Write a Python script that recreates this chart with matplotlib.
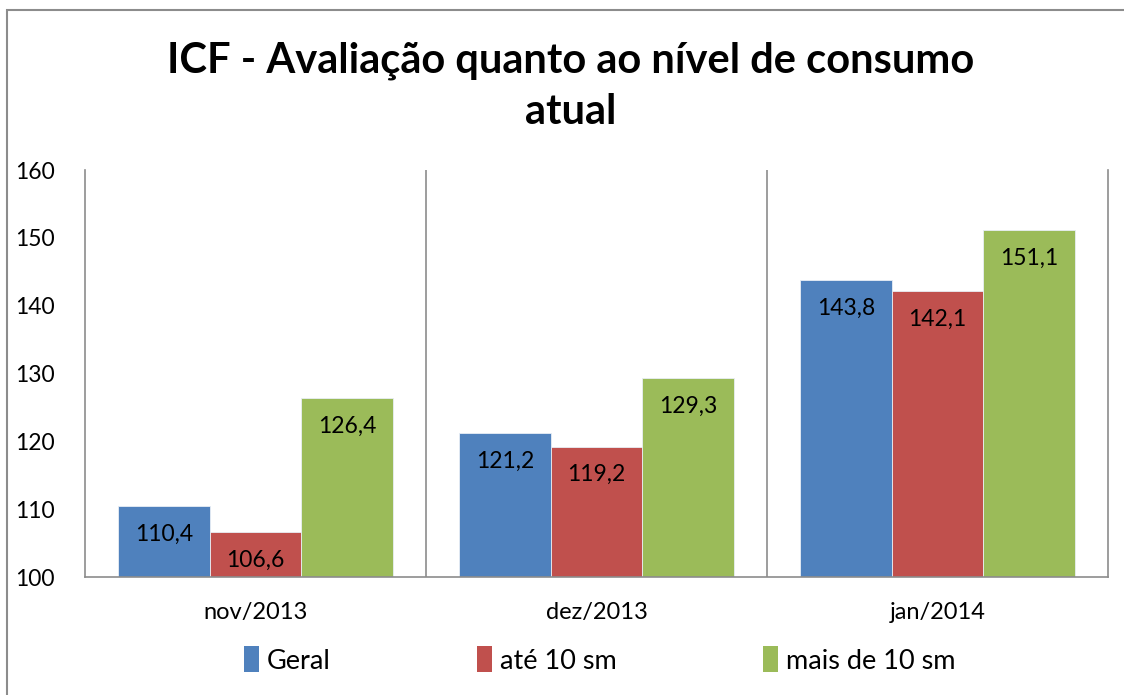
import matplotlib
matplotlib.use("Agg")
import matplotlib.pyplot as plt
from matplotlib.patches import Patch, Rectangle
import numpy as np

categories = ["nov/2013", "dez/2013", "jan/2014"]
series_names = ["Geral", "até 10 sm", "mais de 10 sm"]
geral = [110.4, 121.2, 143.8]
ate10 = [106.6, 119.2, 142.1]
mais10 = [126.4, 129.3, 151.1]
colors = ["#4F81BD", "#C0504D", "#9BBB59"]
yticks = [100, 110, 120, 130, 140, 150, 160]

plt.rcParams['font.family'] = ['Lato', 'DejaVu Sans']

W, H = 1124, 695
fig = plt.figure(figsize=(W/100, H/100), dpi=100)
ax = fig.add_axes([85/W, 1-577/H, (1108-85)/W, (577-170)/H])

x = np.arange(len(categories))
bw = 0.268
series = [geral, ate10, mais10]
for i, (vals, c) in enumerate(zip(series, colors)):
    pos = x + (i-1)*bw
    ax.bar(pos, np.array(vals)-100, bottom=100, width=bw, color=c,
           edgecolor="#e8eef5", linewidth=0.6, zorder=2)
    for p, v in zip(pos, vals):
        ax.annotate(f"{v:.1f}".replace(".", ","), (p, v), xytext=(0, -28),
                    textcoords="offset pixels", ha="center", va="center",
                    fontsize=16.5, color="black", zorder=3)

ax.set_xlim(-0.5, 2.5)
ax.set_ylim(100, 160)
for s in ["left", "right", "bottom"]:
    ax.spines[s].set_color("#8c8c8c")
    ax.spines[s].set_linewidth(1.2)
ax.spines["top"].set_visible(False)
ax.set_yticks(yticks)
ax.set_yticklabels([str(t) for t in yticks], fontsize=16.5)
ax.set_xticks(x)
ax.set_xticklabels(categories, fontsize=17)
ax.tick_params(axis='y', length=0, pad=22)
ax.tick_params(axis='x', length=0, pad=18)
for b in [0.5, 1.5]:
    ax.axvline(b, color="#8c8c8c", linewidth=1.2, zorder=1)

fig.text(571/W, 1-86/H, "ICF - Avaliação quanto ao nível de consumo\natual",
         ha="center", va="center", fontsize=30, fontweight="bold",
         linespacing=1.42)

handles = [Patch(facecolor=c, edgecolor="none") for c in colors]
fig.legend(handles, series_names, loc="center", bbox_to_anchor=(600/W, 1-660/H),
           ncol=3, frameon=False, fontsize=19.5, handlelength=0.55, handleheight=1.1,
           handletextpad=0.3, columnspacing=5.4)

# outer border
fig.patches.append(Rectangle((7/W, -0.01), 1.1, 1-10/H+0.01, transform=fig.transFigure,
                             fill=False, edgecolor="#8c8c8c", linewidth=1.5))

fig.savefig("out.png", dpi=100)
